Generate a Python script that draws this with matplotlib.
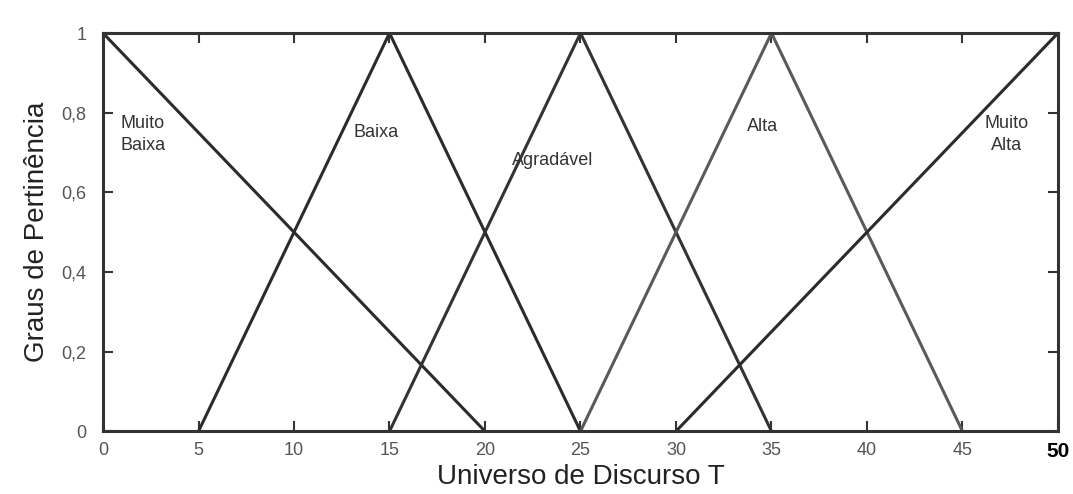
import matplotlib.pyplot as plt

plt.rcParams['font.family'] = ['Liberation Sans', 'DejaVu Sans']

# membership functions (x breakpoints, membership values)
names = ["Muito\nBaixa", "Baixa", "Agradável", "Alta", "Muito\nAlta"]
xs = [[0, 20], [5, 15, 25], [15, 25, 35], [25, 35, 45], [30, 50]]
ys = [[1, 0], [0, 1, 0], [0, 1, 0], [0, 1, 0], [0, 1]]
label_pos = [(0.9, 0.745), (13.1, 0.75), (21.4, 0.68), (33.7, 0.765), (47.3, 0.745)]
colors = ["#2b2b2b", "#2b2b2b", "#333333", "#5a5a5a", "#2b2b2b"]

xticks = [0, 5, 10, 15, 20, 25, 30, 35, 40, 45, 50]
yticks = [0, 0.2, 0.4, 0.6, 0.8, 1]
ytick_labels = ["0", "0,2", "0,4", "0,6", "0,8", "1"]

fig = plt.figure(figsize=(10.73, 4.94), dpi=100)
ax = fig.add_axes([0.096, 0.127, 0.89, 0.806])

for x, y, c in zip(xs, ys, colors):
    ax.plot(x, y, color=c, lw=2.2, solid_capstyle='butt')

for name, (px, py) in zip(names, label_pos):
    ax.text(px, py, name, fontsize=13, color="#333333",
            ha='center' if '\n' in name and px > 40 else 'left',
            va='center', linespacing=1.4)

ax.set_xlim(0, 50)
ax.set_ylim(0, 1)
ax.set_xticks(xticks)
ax.set_xticklabels([str(t) for t in xticks[:-1]] + ["50"])
ax.set_yticks(yticks)
ax.set_yticklabels(ytick_labels)
ax.tick_params(direction='in', length=7, width=1.5, top=True, right=True,
               labelsize=13, labelcolor="#555555", color="#333333")
ax.tick_params(axis='x', pad=8)
ax.tick_params(axis='y', pad=12)
last = ax.get_xticklabels()[-1]
last.set_fontweight('bold')
last.set_color('black')
last.set_fontsize(15)

for s in ax.spines.values():
    s.set_linewidth(2.2)
    s.set_color("#333333")

ax.set_xlabel("Universo de Discurso T", fontsize=20, color="#222222", labelpad=2)
ax.set_ylabel("Graus de Pertinência", fontsize=20, color="#222222", labelpad=8)

fig.savefig("out.png", dpi=100)
